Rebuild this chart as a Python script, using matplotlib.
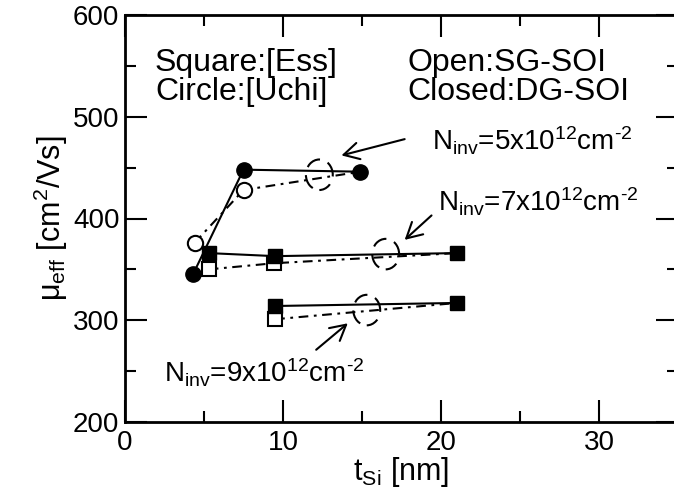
import matplotlib
matplotlib.use('Agg')
import matplotlib.pyplot as plt
from matplotlib.patches import Ellipse

plt.rcParams['font.family'] = ['Liberation Sans', 'DejaVu Sans']
plt.rcParams['mathtext.fontset'] = 'custom'
plt.rcParams['mathtext.rm'] = 'Liberation Sans'
plt.rcParams['mathtext.it'] = 'Liberation Sans:italic'
plt.rcParams['lines.scale_dashes'] = False

# N_inv = 5e12 (circles, Uchi)
n5_dg_t = [4.3, 7.5, 14.9]
n5_dg_mu = [345, 448, 446]
n5_sg_t = [4.4, 7.5, 14.9]
n5_sg_mu = [376, 428, 446]

# N_inv = 7e12 (squares, Ess)
n7_dg_t = [5.3, 9.5, 21.0]
n7_dg_mu = [366, 363, 366]
n7_sg_t = [5.3, 9.4, 21.0]
n7_sg_mu = [350, 356, 366]

# N_inv = 9e12 (squares, Ess)
n9_dg_t = [9.5, 21.0]
n9_dg_mu = [314, 317]
n9_sg_t = [9.5, 21.0]
n9_sg_mu = [301, 317]

# dashed "( )" marks and arrows (tip, tail)
ring_t = [12.3, 16.5, 15.3]
ring_mu = [443, 365, 310]
arrows = [((13.7, 462), (17.7, 478)),
          ((17.7, 379), (19.4, 403)),
          ((14.1, 297), (12.1, 271))]

labels = [(19.4, 467, r'N$_{\rm inv}$=5x10$^{12}$cm$^{\text{-2}}$'),
          (19.8, 407, r'N$_{\rm inv}$=7x10$^{12}$cm$^{\text{-2}}$'),
          (2.5, 239, r'N$_{\rm inv}$=9x10$^{12}$cm$^{\text{-2}}$')]

dashdot = (0, (7, 4, 2, 4))

fig = plt.figure(figsize=(6.74, 5.0), dpi=100)
ax = fig.add_axes([125 / 674, 78 / 500, 553 / 674, 407 / 500])

lw = 1.5
ms = 11
ax.plot(n5_sg_t, n5_sg_mu, color='k', lw=lw, linestyle=dashdot, zorder=2)
ax.plot(n7_sg_t, n7_sg_mu, color='k', lw=lw, linestyle=dashdot, zorder=2)
ax.plot(n9_sg_t, n9_sg_mu, color='k', lw=lw, linestyle=dashdot, zorder=2)
ax.plot(n5_dg_t, n5_dg_mu, color='k', lw=lw, zorder=2)
ax.plot(n7_dg_t, n7_dg_mu, color='k', lw=lw, zorder=2)
ax.plot(n9_dg_t, n9_dg_mu, color='k', lw=lw, zorder=2)

# markers: open = SG-SOI, closed = DG-SOI (last point shared)
ax.plot(n5_sg_t[:2], n5_sg_mu[:2], 'o', ms=ms, mfc='white', mec='k', mew=1.5, zorder=3)
ax.plot(n7_sg_t[:2], n7_sg_mu[:2], 's', ms=ms - 1, mfc='white', mec='k', mew=1.5, zorder=3)
ax.plot(n9_sg_t[:1], n9_sg_mu[:1], 's', ms=ms - 1, mfc='white', mec='k', mew=1.5, zorder=3)
ax.plot(n5_dg_t, n5_dg_mu, 'o', ms=ms, color='k', zorder=4)
ax.plot(n7_dg_t, n7_dg_mu, 's', ms=ms - 1, color='k', zorder=4)
ax.plot(n9_dg_t, n9_dg_mu, 's', ms=ms - 1, color='k', zorder=4)

for t, mu in zip(ring_t, ring_mu):
    ax.add_patch(Ellipse((t, mu), 1.7, 30, fill=False, ec='k', lw=1.5,
                         linestyle=(2, (11, 6)), zorder=5))

for tip, tail in arrows:
    ax.annotate('', xy=tip, xytext=tail,
                arrowprops=dict(arrowstyle='->,head_length=0.55,head_width=0.3',
                                lw=1.5, color='k', mutation_scale=20,
                                shrinkA=0, shrinkB=0))

for x, y, s in labels:
    ax.text(x, y, s, fontsize=20, ha='left', va='baseline')

ax.text(1.9, 553, 'Square:[Ess]', fontsize=23, ha='left', va='center')
ax.text(1.9, 524, 'Circle:[Uchi]', fontsize=23, ha='left', va='center')
ax.text(17.9, 553, 'Open:SG-SOI', fontsize=23, ha='left', va='center')
ax.text(17.9, 524, 'Closed:DG-SOI', fontsize=23, ha='left', va='center')

ax.set_xlim(0, 35)
ax.set_ylim(200, 600)
ax.set_xticks([0, 10, 20, 30])
ax.set_xticks([5, 15, 25], minor=True)
ax.set_yticks([200, 300, 400, 500, 600])
ax.set_yticks([250, 350, 450, 550], minor=True)
ax.tick_params(which='both', direction='in', top=True, right=True, width=1.5,
               labelsize=20)
ax.tick_params(which='major', length=16)
ax.tick_params(which='minor', length=8)
ax.tick_params(axis='x', pad=6)
ax.tick_params(axis='y', pad=4)
for sp in ax.spines.values():
    sp.set_linewidth(2)

ax.set_xlabel(r't$_{\rm Si}$ [nm]', fontsize=22, labelpad=-1)
ax.set_ylabel(r'μ$_{\rm eff}$ [cm$^2$/Vs]', fontsize=22, labelpad=2)

fig.savefig('out.png', dpi=100)
